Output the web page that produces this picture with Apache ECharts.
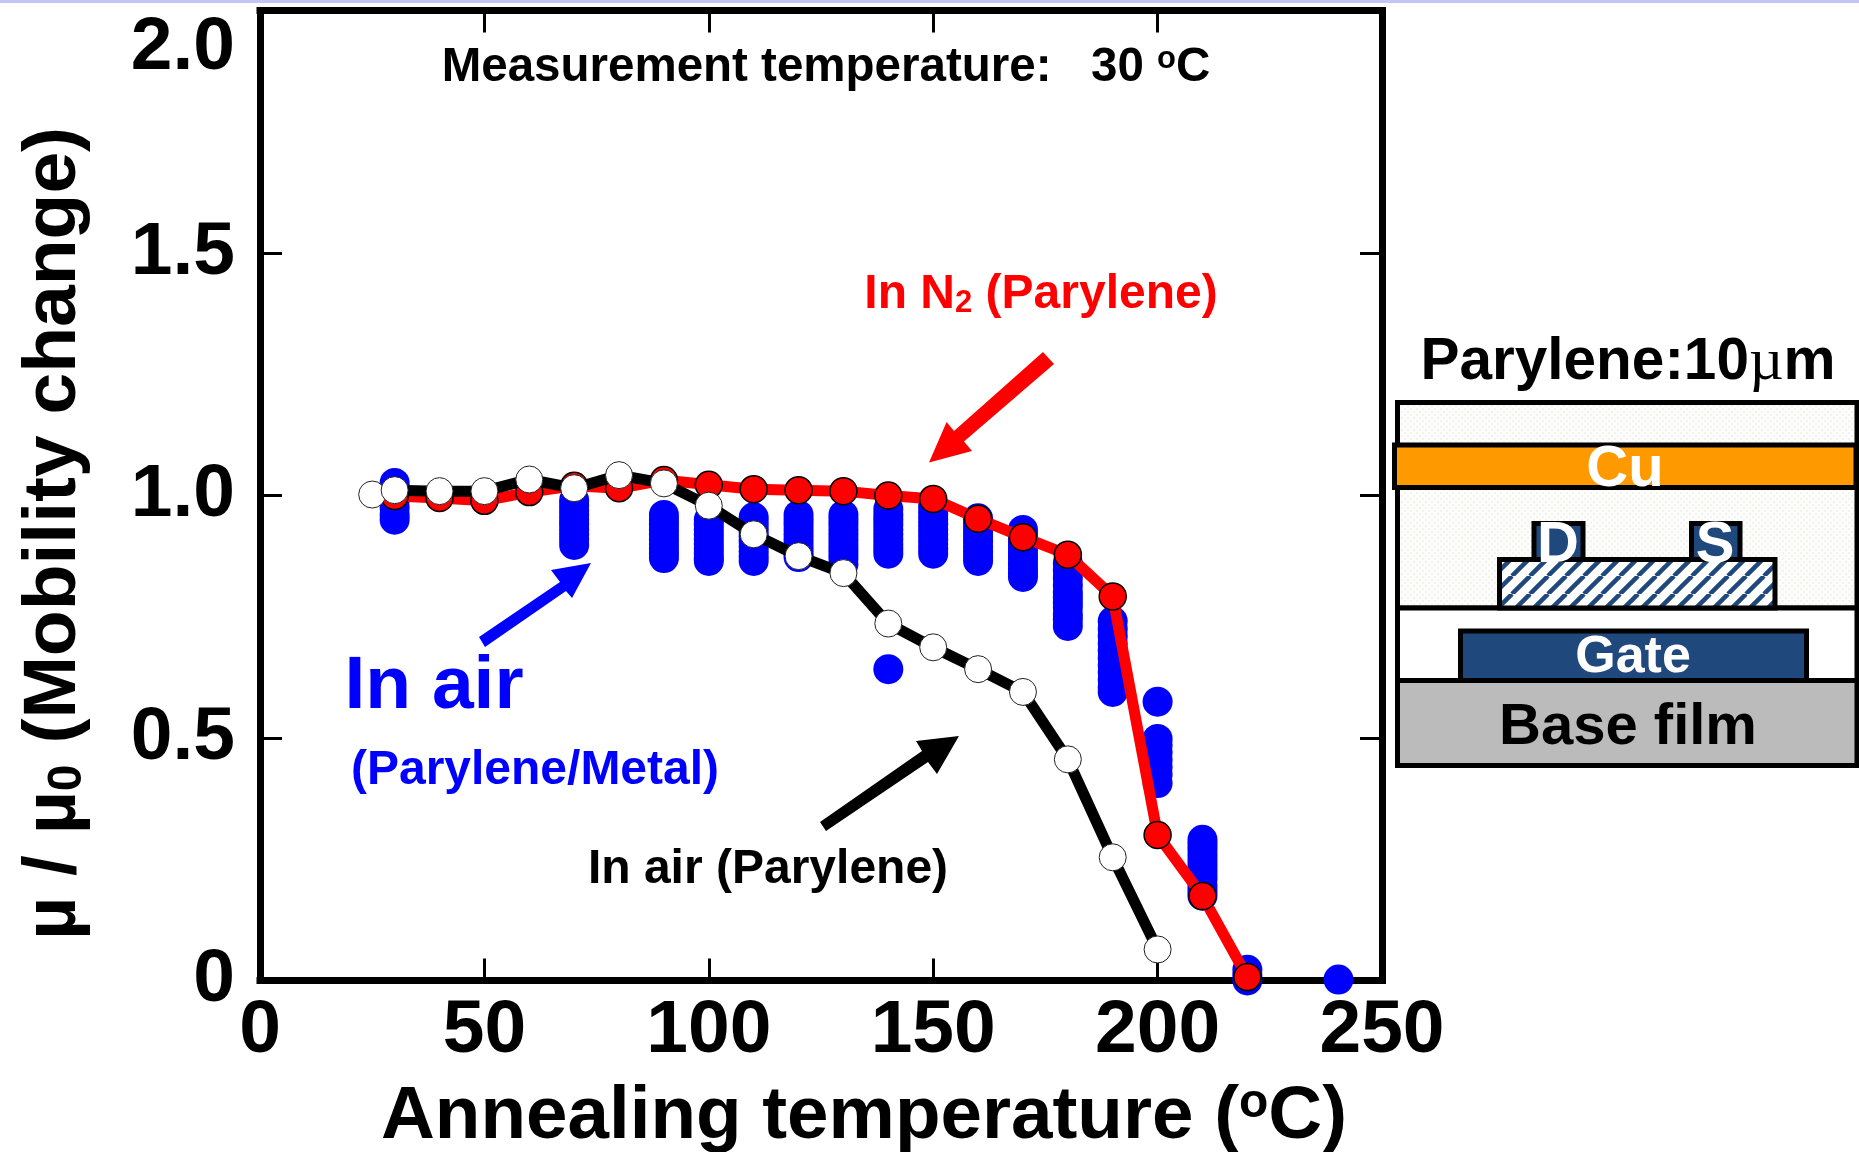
<!DOCTYPE html>
<html>
<head>
<meta charset="utf-8">
<style>html,body{margin:0;padding:0;background:#fff}#c{width:1859px;height:1152px}</style>
<script src="https://cdn.jsdelivr.net/npm/echarts@6/dist/echarts.min.js"></script>
</head>
<body>
<div id="c"></div>
<script>
var xTicks = [0, 50, 100, 150, 200, 250];
var yTicks = [0, 0.5, 1.0, 1.5, 2.0];
var blackX = [25, 30, 40, 50, 60, 70, 80, 90, 100, 110, 120, 130, 140, 150, 160, 170, 180, 190, 200];
var blackY = [1.002, 1.011, 1.009, 1.009, 1.033, 1.015, 1.042, 1.025, 0.979, 0.92, 0.875, 0.84, 0.736, 0.687, 0.642, 0.595, 0.456, 0.254, 0.064];
var redX = [30, 40, 50, 60, 70, 80, 90, 100, 110, 120, 130, 140, 150, 160, 170, 180, 190, 200, 210, 220];
var redY = [0.999, 0.995, 0.989, 1.007, 1.02, 1.015, 1.032, 1.022, 1.013, 1.011, 1.009, 1.0, 0.993, 0.952, 0.914, 0.878, 0.792, 0.30, 0.174, 0.007];
var blue30 = [1.026, 1.015, 1.0, 0.99, 0.975, 0.96, 0.95];
var blue70 = [0.99, 0.98, 0.97, 0.96, 0.95, 0.94, 0.93, 0.92, 0.91, 0.898];
var blue90 = [0.96, 0.95, 0.94, 0.93, 0.92, 0.91, 0.9, 0.89, 0.88, 0.871];
var blue100 = [0.95, 0.94, 0.93, 0.92, 0.91, 0.9, 0.89, 0.88, 0.87, 0.865];
var blue110 = [0.955, 0.945, 0.935, 0.925, 0.915, 0.905, 0.895, 0.885, 0.875, 0.865];
var blue120 = [0.96, 0.95, 0.94, 0.93, 0.92, 0.91, 0.9, 0.89, 0.88, 0.873];
var blue130 = [0.96, 0.95, 0.94, 0.93, 0.92, 0.91, 0.9, 0.89, 0.88, 0.87, 0.858];
var blue140 = [0.972, 0.96, 0.95, 0.94, 0.93, 0.92, 0.91, 0.9, 0.89, 0.88, 0.642];
var blue150 = [0.98, 0.97, 0.96, 0.95, 0.94, 0.93, 0.92, 0.91, 0.9, 0.89, 0.88];
var blue160 = [0.953, 0.945, 0.935, 0.925, 0.915, 0.905, 0.895, 0.885, 0.875, 0.865];
var blue170 = [0.929, 0.92, 0.91, 0.9, 0.89, 0.88, 0.87, 0.86, 0.85, 0.84, 0.832];
var blue180 = [0.86, 0.845, 0.83, 0.815, 0.80, 0.79, 0.78, 0.77, 0.755, 0.745, 0.731];
var blue190 = [0.741, 0.725, 0.71, 0.695, 0.68, 0.665, 0.65, 0.635, 0.62, 0.605, 0.595];
var blue200 = [0.575, 0.498, 0.485, 0.47, 0.455, 0.44, 0.425, 0.407];
var blue210 = [0.29, 0.28, 0.27, 0.26, 0.25, 0.24, 0.23, 0.22, 0.21, 0.195, 0.185, 0.175];
var blue220 = [0.022, 0.01, 0.0];
var blue240 = [0.002];

var blueColumns = [[30, blue30], [70, blue70], [90, blue90], [100, blue100], [110, blue110], [120, blue120], [130, blue130], [140, blue140], [150, blue150], [160, blue160], [170, blue170], [180, blue180], [190, blue190], [200, blue200], [210, blue210], [220, blue220], [240.3, blue240]];
var blueData = [];
blueColumns.forEach(function (c) { c[1].forEach(function (v) { blueData.push([c[0], v]); }); });
function zip(a, b) { return a.map(function (v, i) { return [v, b[i]]; }); }

var FF = '"Liberation Sans", Arial, sans-serif';
var NAVY = '#1F497D';

function dotPattern() {
  var c = document.createElement('canvas'); c.width = 6; c.height = 6;
  var g = c.getContext('2d');
  g.fillStyle = '#fdfdfc'; g.fillRect(0, 0, 6, 6);
  g.fillStyle = '#f3f3ee'; g.fillRect(0, 0, 2, 2); g.fillRect(3, 3, 2, 2);
  return { image: c, repeat: 'repeat' };
}
function hatchPattern() {
  var s = 18, c = document.createElement('canvas'); c.width = s; c.height = s;
  var g = c.getContext('2d');
  g.fillStyle = '#fff'; g.fillRect(0, 0, s, s);
  g.strokeStyle = NAVY; g.lineWidth = 4.5;
  [-s, 0, s].forEach(function (o) { g.beginPath(); g.moveTo(o, s); g.lineTo(o + s, 0); g.stroke(); });
  return { image: c, repeat: 'repeat' };
}
function box(x0, y0, x1, y1, fill, lw) {
  return { type: 'rect', z: 50, shape: { x: x0, y: y0, width: x1 - x0, height: y1 - y0 }, style: { fill: fill, stroke: '#000', lineWidth: lw === undefined ? 5 : lw } };
}
function poly(points, fill) {
  return { type: 'polygon', z: 40, shape: { points: points }, style: { fill: fill } };
}
function label(text, x, y, size, fill, rich) {
  return { type: 'text', z: 60, style: { text: text, x: x, y: y, align: 'center', verticalAlign: 'middle', fontFamily: FF, fontWeight: 'bold', fontSize: size, fill: fill, rich: rich } };
}

var graphics = [
  { type: 'rect', z: 1, shape: { x: 0, y: 0, width: 1859, height: 3 }, style: { fill: '#c4c4f6' } },
  poly([[591, 563], [551, 570], [560, 582], [479, 637], [485, 647], [566, 591], [572, 598]], '#0000ff'),
  poly([[929, 462.5], [972, 451], [964, 441.5], [1054, 364], [1043, 352], [954, 431], [946.6, 422]], '#ff0000'),
  poly([[959, 736], [916, 741], [922, 751], [820, 822], [826, 831], [928, 762], [937, 774]], '#000000'),
  label('Measurement temperature:   30 {s|o}C', 826, 68, 47.5, '#000', { s: { fontFamily: FF, fontWeight: 'bold', fontSize: 31, fill: '#000', verticalAlign: 'top' } }),
  label('In N{s|2} (Parylene)', 1041, 295, 48, '#ff0000', { s: { fontFamily: FF, fontWeight: 'bold', fontSize: 31, fill: '#ff0000', verticalAlign: 'bottom' } }),
  label('In air', 434, 687, 75, '#0000ff'),
  label('(Parylene/Metal)', 535, 771, 48, '#0000ff'),
  label('In air (Parylene)', 768, 870, 48, '#000'),
  box(1397.5, 402.5, 1857, 608, dotPattern()),
  box(1397.5, 608, 1857, 680.5, '#ffffff'),
  box(1397.5, 680.5, 1857, 765.5, '#BBBBBB'),
  box(1394.5, 445, 1856, 487.5, '#FF9900'),
  box(1534, 523.5, 1583, 560, NAVY),
  box(1691.5, 523.5, 1740, 560, NAVY),
  box(1499.5, 559.5, 1775, 608, hatchPattern()),
  box(1460.5, 631, 1806.5, 680.5, NAVY),
  label('Parylene:10{m|\u00b5}m', 1628, 363, 58.5, '#000', { m: { fontFamily: '"Liberation Serif", serif', fontWeight: 'normal', fontSize: 60, fill: '#000' } }),
  label('Cu', 1625, 470, 58, '#fff'),
  label('D', 1558, 546, 58, '#fff'),
  label('S', 1715, 546, 58, '#fff'),
  label('Gate', 1633, 658, 52, '#fff'),
  label('Base film', 1628, 728, 58, '#000')
];

var axisLine = { show: true, onZero: false, lineStyle: { color: '#000', width: 7, cap: 'square' } };
var tick = { show: true, inside: true, length: 22, lineStyle: { color: '#000', width: 3 } };
var tickText = { fontFamily: FF, fontWeight: 'bold', fontSize: 75, color: '#000' };

var option = {
  backgroundColor: '#fff',
  animation: false,
  grid: { left: 260, right: 477, top: 10.5, bottom: 171.5, show: false, containLabel: false, outerBoundsMode: 'none' },
  xAxis: [
    { type: 'value', min: 0, max: 250, interval: 50, position: 'bottom', splitLine: { show: false }, axisLine: axisLine, axisTick: tick,
      axisLabel: Object.assign({ margin: 13, showMinLabel: true, showMaxLabel: true, formatter: function (v) { return xTicks.indexOf(v) >= 0 ? String(v) : ''; } }, tickText),
      name: '{a|Annealing temperature (}{s|o}{a|C)}', nameLocation: 'middle', nameGap: 99,
      nameTextStyle: { padding: [0, 0, 0, 86], rich: {
        a: { fontFamily: FF, fontWeight: 'bold', fontSize: 74.6, color: '#000' },
        s: { fontFamily: FF, fontWeight: 'bold', fontSize: 48, color: '#000', verticalAlign: 'top' } } } },
    { type: 'value', min: 0, max: 250, interval: 50, position: 'top', splitLine: { show: false }, axisLine: axisLine, axisTick: tick, axisLabel: { show: false } }
  ],
  yAxis: [
    { type: 'value', min: 0, max: 2, interval: 0.5, position: 'left', splitLine: { show: false }, axisLine: axisLine, axisTick: tick,
      axisLabel: Object.assign({ margin: 25, verticalAlignMaxLabel: 'top', showMinLabel: true, showMaxLabel: true, formatter: function (v) { return v === 0 ? '0' : v.toFixed(1); } }, tickText),
      name: '{a|\u00b5 / \u00b5}{s|0}{a| (Mobility change)}', nameLocation: 'middle', nameRotate: 90, nameGap: 168,
      nameTextStyle: { padding: [0, 76, 0, 0], rich: {
        a: { fontFamily: FF, fontWeight: 'bold', fontSize: 75, color: '#000' },
        s: { fontFamily: FF, fontWeight: 'bold', fontSize: 48, color: '#000', verticalAlign: 'bottom' } } } },
    { type: 'value', min: 0, max: 2, interval: 0.5, position: 'right', splitLine: { show: false }, axisLine: axisLine, axisTick: tick, axisLabel: { show: false } }
  ],
  series: [
    { name: 'In air (Parylene/Metal)', type: 'scatter', data: blueData, symbol: 'circle', symbolSize: 30, clip: false, z: 10, itemStyle: { color: '#0000ff', opacity: 1 } },
    { name: 'In N2 (Parylene)', type: 'line', data: zip(redX, redY), clip: false, z: 11, symbol: 'circle', symbolSize: 27, showSymbol: true, showAllSymbol: true,
      lineStyle: { color: '#ff0000', width: 11, join: 'miter' }, itemStyle: { color: '#ff0000', borderColor: '#000', borderWidth: 1.5 } },
    { name: 'In air (Parylene)', type: 'line', data: zip(blackX, blackY), clip: false, z: 12, symbol: 'circle', symbolSize: 27, showSymbol: true, showAllSymbol: true,
      lineStyle: { color: '#000', width: 11, join: 'miter' }, itemStyle: { color: '#fff', borderColor: '#222', borderWidth: 1 } }
  ],
  graphic: { elements: graphics }
};
var chart = echarts.init(document.getElementById('c'), null, { renderer: 'canvas', width: 1859, height: 1152 });
chart.setOption(option);
</script>
</body>
</html>
